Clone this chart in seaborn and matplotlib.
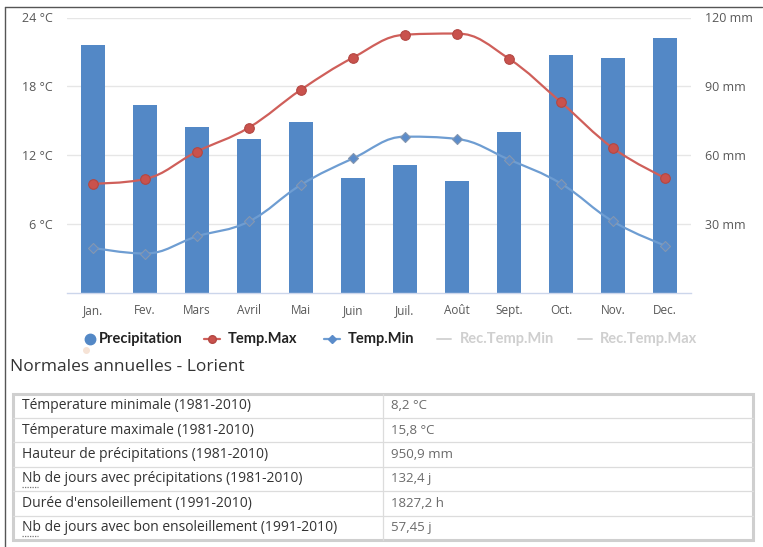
import numpy as np
import matplotlib
matplotlib.use("Agg")
import matplotlib.pyplot as plt
from matplotlib.path import Path
from matplotlib.patches import PathPatch, Rectangle
from matplotlib.lines import Line2D
import seaborn as sns

# ---- data -------------------------------------------------------------
months = ["Jan.", "Fev.", "Mars", "Avril", "Mai", "Juin",
          "Juil.", "Août", "Sept.", "Oct.", "Nov.", "Dec."]
precip_mm = [108.0, 82.0, 72.4, 66.9, 74.3, 49.9, 55.7, 48.7, 69.9, 103.6, 102.2, 110.9]
temp_max = [9.5, 9.9, 12.3, 14.4, 17.7, 20.5, 22.5, 22.6, 20.4, 16.6, 12.6, 10.0]
temp_min = [3.9, 3.4, 4.9, 6.2, 9.4, 11.7, 13.6, 13.4, 11.6, 9.5, 6.2, 4.1]

temp_ticks = [6, 12, 18, 24]
precip_ticks = [30, 60, 90, 120]

table_labels = [
    "Témperature minimale (1981-2010)",
    "Témperature maximale (1981-2010)",
    "Hauteur de précipitations (1981-2010)",
    "Nb de jours avec précipitations (1981-2010)",
    "Durée d'ensoleillement (1991-2010)",
    "Nb de jours avec bon ensoleillement (1991-2010)",
]
table_values = ["8,2 °C", "15,8 °C", "950,9 mm", "132,4 j", "1827,2 h", "57,45 j"]

# ---- style ------------------------------------------------------------
BAR = "#5388c6"
TMAX_LINE = "#cf5f5a"
TMAX_MARK = "#c9524d"
TMIN_LINE = "#6e9dd2"
TMIN_MARK = "#5b8cca"
GRID = "#e6e6e6"
AXIS = "#ccd6eb"
LABEL = "#585858"

sns.set_style("white")
plt.rcParams["font.family"] = ["Open Sans", "DejaVu Sans"]

W, H = 763, 547
fig = plt.figure(figsize=(W / 100, H / 100), dpi=100)


def fx(px):
    return px / W


def fy(py):
    return 1 - py / H


# plot area in pixels: x 67..691, y 17.5..292.5
ax_t = fig.add_axes([fx(67), fy(292.5), 624 / W, 275 / H])
ax_p = ax_t.twinx()

# precipitation bars (right axis)
sns.barplot(x=months, y=precip_mm, order=months, color=BAR, saturation=1,
            width=0.46, edgecolor="none", ax=ax_p)
ax_p.set_ylim(0, 120)
ax_p.set_yticks(precip_ticks)
ax_p.set_yticklabels([f"{v} mm" for v in precip_ticks])
ax_p.yaxis.grid(True, color=GRID, lw=1)
ax_p.set_axisbelow(True)
ax_p.tick_params(axis="y", length=0, pad=10, labelsize=9, labelcolor=LABEL)
ax_p.set_ylabel("")
for s in ax_p.spines.values():
    s.set_visible(False)

# temperatures drawn above the bars
ax_t.set_zorder(ax_p.get_zorder() + 1)
ax_t.patch.set_visible(False)


def spline_path(xs, ys, smoothing=1.5):
    """Smooth cubic path through the points (Highcharts-style spline)."""
    denom = smoothing + 1
    n = len(xs)
    verts = [(xs[0], ys[0])]
    codes = [Path.MOVETO]
    right_prev = (xs[0], ys[0])
    for i in range(1, n):
        px, py = xs[i], ys[i]
        lx, ly = xs[i - 1], ys[i - 1]
        if i < n - 1:
            nx, ny = xs[i + 1], ys[i + 1]
            lcx = (smoothing * px + lx) / denom
            lcy = (smoothing * py + ly) / denom
            rcx = (smoothing * px + nx) / denom
            rcy = (smoothing * py + ny) / denom
            corr = ((rcy - lcy) * (rcx - px)) / (rcx - lcx) + py - rcy
            lcy += corr
            rcy += corr
            if lcy > ly and lcy > py:
                lcy = max(ly, py)
                rcy = 2 * py - lcy
            elif lcy < ly and lcy < py:
                lcy = min(ly, py)
                rcy = 2 * py - lcy
            if rcy > ny and rcy > py:
                rcy = max(ny, py)
                lcy = 2 * py - rcy
            elif rcy < ny and rcy < py:
                rcy = min(ny, py)
                lcy = 2 * py - rcy
        else:
            lcx, lcy, rcx, rcy = px, py, px, py
        verts += [right_prev, (lcx, lcy), (px, py)]
        codes += [Path.CURVE4] * 3
        right_prev = (rcx, rcy)
    return Path(verts, codes)


pos = np.arange(len(months))
ax_t.add_patch(PathPatch(spline_path(pos, temp_max), fill=False,
                         ec=TMAX_LINE, lw=1.6, zorder=2, capstyle="round"))
ax_t.add_patch(PathPatch(spline_path(pos, temp_min), fill=False,
                         ec=TMIN_LINE, lw=1.6, zorder=2, capstyle="round"))
sns.scatterplot(x=pos, y=temp_max, marker="o", s=48, color=TMAX_MARK,
                edgecolor="#b34742", linewidth=0.8, zorder=3, legend=False, ax=ax_t)
sns.scatterplot(x=pos, y=temp_min, marker="D", s=26, color=TMIN_MARK,
                edgecolor="#8497b0", linewidth=0.8, zorder=3, legend=False, ax=ax_t)

ax_t.set_xlim(-0.5, 11.5)
ax_t.set_ylim(0, 24)
ax_t.set_yticks(temp_ticks)
ax_t.set_yticklabels([f"{v} °C" for v in temp_ticks])
ax_t.tick_params(axis="y", length=0, pad=10.5, labelsize=9, labelcolor=LABEL)
ax_t.set_xticks(pos)
ax_t.set_xticklabels(months)
ax_t.set_xticks(np.arange(-0.5, 12, 1), minor=True)
ax_t.tick_params(axis="x", which="major", length=0, pad=8.5, labelsize=8.5,
                 labelcolor=LABEL)
ax_t.tick_params(axis="x", which="minor", length=8, width=1, color=AXIS)
ax_t.set_xlabel("")
ax_t.set_ylabel("")
for k, s in ax_t.spines.items():
    s.set_visible(k == "bottom")
ax_t.spines["bottom"].set_color(AXIS)
ax_t.spines["bottom"].set_linewidth(1)

# ---- legend -----------------------------------------------------------
LEG_Y = 339
leg_font = dict(family=["Lato", "DejaVu Sans"], fontsize=10.5, fontweight="bold",
                va="center", ha="left")
fig.add_artist(Line2D([fx(90)], [fy(LEG_Y)], marker="o", ms=7.5, color=BAR,
                      mec=BAR, ls="none"))
fig.add_artist(Line2D([fx(86)], [fy(350)], marker="o", ms=5, color="#f6e3d6",
                      mec="none", ls="none"))
fig.text(fx(99), fy(LEG_Y), "Precipitation", color="#222222", **leg_font)

fig.add_artist(Line2D([fx(204), fx(220)], [fy(LEG_Y)] * 2, color=TMAX_LINE, lw=1.6))
fig.add_artist(Line2D([fx(212)], [fy(LEG_Y)], marker="o", ms=5.5, color=TMAX_MARK,
                      mec="#b34742", ls="none"))
fig.text(fx(228), fy(LEG_Y), "Temp.Max", color="#222222", **leg_font)

fig.add_artist(Line2D([fx(324), fx(340)], [fy(LEG_Y)] * 2, color=TMIN_LINE, lw=1.6))
fig.add_artist(Line2D([fx(332)], [fy(LEG_Y)], marker="D", ms=4.5, color=TMIN_MARK,
                      mec=TMIN_MARK, ls="none"))
fig.text(fx(348), fy(LEG_Y), "Temp.Min", color="#222222", **leg_font)

fig.add_artist(Line2D([fx(437), fx(451)], [fy(LEG_Y)] * 2, color="#d4d4d4", lw=1.4))
fig.text(fx(460), fy(LEG_Y), "Rec.Temp.Min", color="#cfcfcf", **leg_font)
fig.add_artist(Line2D([fx(578), fx(592)], [fy(LEG_Y)] * 2, color="#d4d4d4", lw=1.4))
fig.text(fx(600), fy(LEG_Y), "Rec.Temp.Max", color="#cfcfcf", **leg_font)

# ---- summary title and table -----------------------------------------
fig.text(fx(10), fy(367), "Normales annuelles - Lorient", fontsize=12.5,
         color="#333333", va="center", ha="left")

T_LEFT, T_RIGHT, T_TOP, T_BOTTOM = 13, 753, 393.5, 540
COL = 383
row_h = (T_BOTTOM - T_TOP) / len(table_labels)
for i in range(1, len(table_labels)):
    yy = fy(T_TOP + i * row_h)
    fig.add_artist(Line2D([fx(T_LEFT), fx(T_RIGHT)], [yy, yy], color="#dcdcdc", lw=0.9))
fig.add_artist(Line2D([fx(COL), fx(COL)], [fy(T_TOP), fy(T_BOTTOM)],
                      color="#dcdcdc", lw=0.9))
fig.add_artist(Rectangle((fx(T_LEFT), fy(T_BOTTOM)), (T_RIGHT - T_LEFT) / W,
                         (T_BOTTOM - T_TOP) / H, transform=fig.transFigure,
                         fill=False, ec="#cfcfcf", lw=2.2))
for i, (lab, val) in enumerate(zip(table_labels, table_values)):
    yc = T_TOP + (i + 0.5) * row_h
    fig.text(fx(22), fy(yc), lab, fontsize=10, color="#333333", va="center", ha="left")
    fig.text(fx(391), fy(yc), val, fontsize=9.5, color="#6a6a6a", va="center", ha="left")
    if lab.startswith("Nb"):
        fig.add_artist(Line2D([fx(22), fx(38)], [fy(yc + 8.5)] * 2, color="#777777",
                              lw=0.9, ls=(0, (1, 1))))

# outer frame lines (left and top)
fig.add_artist(Line2D([fx(5), fx(5)], [fy(7), 0], color="#555555", lw=1))
fig.add_artist(Line2D([fx(5), fx(762)], [fy(7), fy(7)], color="#555555", lw=1))

fig.savefig("out.png", dpi=100)
